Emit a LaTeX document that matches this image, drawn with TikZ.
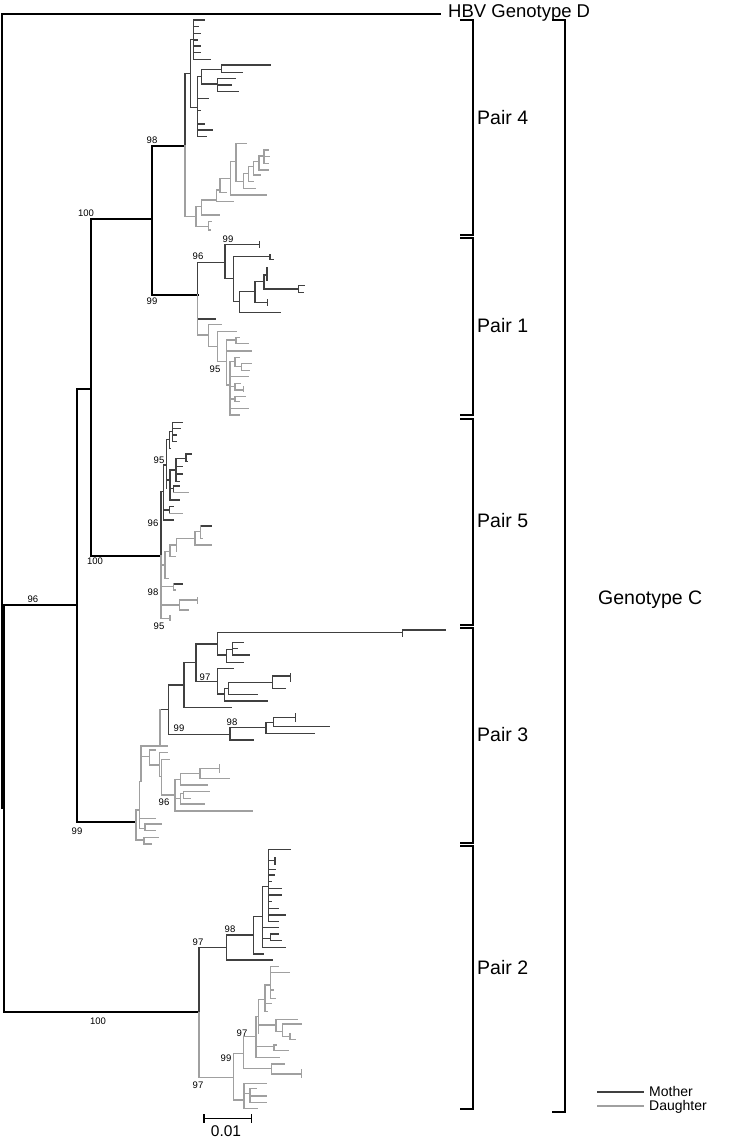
\documentclass[tikz,border=0pt]{standalone}
\usepackage{fontspec}
\setmainfont{Liberation Sans}
\definecolor{mcol}{HTML}{404040}
\definecolor{dcol}{HTML}{A0A0A0}
\begin{document}
\begin{tikzpicture}[x=1pt,y=-1pt,line cap=rect,
  mo/.style={draw=mcol,line width=1.55pt},
  da/.style={draw=dcol,line width=1.55pt},
  bk/.style={draw=black,line width=1.8pt},
  br/.style={draw=black,line width=1.5pt},
  bs/.style={font=\fontsize{9.5}{10}\selectfont,inner sep=0pt},
  lab/.style={font=\fontsize{19.5}{22}\selectfont,inner sep=0pt,anchor=west},
  leg/.style={font=\fontsize{14}{16}\selectfont,inner sep=0pt,anchor=west},
  zs/.style={x=0.333333pt,y=-0.333333pt}]
\useasboundingbox (0,0) rectangle (734,1139);

% ---------- backbone ----------
\draw[bk] (2,14) -- (440,14) (2,14) -- (2,808) (2,808) -- (4,808)
  (4,605) -- (4,1012) (4,605) -- (77,605) (77,389) -- (77,822)
  (77,389) -- (91,389) (91,219) -- (91,556) (91,219) -- (152,219)
  (152,146) -- (152,295) (152,146) -- (185,146) (152,295) -- (197.7,295)
  (91,556) -- (161,556) (77,822) -- (136,822) (4,1012) -- (199,1012);

% ---------- Pair 4 ----------
\begin{scope}[xshift=140pt,yshift=-10pt,zs]
\draw[mo] (135,190) -- (135,408) (135,190) -- (152,190) (152,88) -- (152,292)
 (152,88) -- (160,88) (160,30) -- (160,148)
 (160,30) -- (192,30) (160,50) -- (175,50) (160,70) -- (182,70) (160,90) -- (172,90)
 (160,108) -- (180,108) (160,128) -- (182,128) (160,148) -- (210,148)
 (152,292) -- (172,292) (172,200) -- (172,380) (172,200) -- (185,200)
 (185,178) -- (185,222) (185,178) -- (245,178) (245,165) -- (245,188)
 (245,165) -- (390,165) (245,188) -- (307,188)
 (185,222) -- (232,222) (232,205) -- (232,245) (232,205) -- (287,205)
 (232,225) -- (275,225) (232,245) -- (296,245)
 (172,265) -- (205,265) (172,302) -- (182,302) (172,342) -- (192,342)
 (172,360) -- (218,360) (172,380) -- (200,380);
\draw[da] (135,408) -- (135,620) (135,620) -- (168,620) (168,590) -- (168,650)
 (168,650) -- (205,650) (205,635) -- (205,660) (205,635) -- (215,635) (205,660) -- (210,660)
 (168,590) -- (185,590) (185,570) -- (185,615) (185,615) -- (237,615)
 (185,570) -- (230,570) (230,540) -- (230,575) (230,575) -- (280,575)
 (230,540) -- (240,540) (240,505) -- (240,548) (240,548) -- (258,548)
 (240,505) -- (272,505) (272,455) -- (272,555) (272,555) -- (380,555)
 (272,455) -- (288,455) (288,400) -- (288,515) (288,400) -- (320,400)
 (288,515) -- (310,515) (310,490) -- (310,535) (310,535) -- (345,535)
 (310,490) -- (325,490) (325,470) -- (325,515) (325,515) -- (340,515)
 (325,470) -- (340,470) (340,455) -- (340,495) (340,495) -- (360,495)
 (340,455) -- (357,455) (357,438) -- (357,480) (357,480) -- (385,480)
 (357,438) -- (372,438) (372,420) -- (372,460) (372,420) -- (385,420)
 (372,440) -- (388,440) (372,460) -- (385,460);
\end{scope}

% ---------- Pair 1 ----------
\begin{scope}[xshift=140pt,yshift=-225pt,zs]
\draw[mo] (173,210) -- (173,112) (173,112) -- (255,112) (255,58) -- (255,160)
 (255,58) -- (358,58) (358,50) -- (358,66)
 (255,160) -- (280,160) (280,95) -- (280,230)
 (280,95) -- (390,95) (390,88) -- (390,103) (390,103) -- (400,103)
 (280,230) -- (298,230) (298,200) -- (298,262) (298,262) -- (420,262)
 (298,200) -- (345,200) (345,170) -- (345,232)
 (345,232) -- (383,232) (383,224) -- (383,240)
 (345,170) -- (372,170) (372,150) -- (372,192)
 (372,192) -- (475,192) (475,182) -- (475,202) (475,182) -- (492,182) (475,202) -- (490,202)
 (372,150) -- (381,150) (381,128) -- (381,165)
 (175,282) -- (225,282);
\draw[da] (173,210) -- (173,330) (173,330) -- (205,330) (205,298) -- (205,365)
 (205,298) -- (243,298) (205,365) -- (232,365) (232,320) -- (232,410)
 (232,320) -- (290,320) (232,410) -- (260,410) (260,345) -- (260,480)
 (260,345) -- (288,345) (288,338) -- (288,355) (288,338) -- (298,338) (288,355) -- (325,355)
 (260,378) -- (335,378) (260,480) -- (270,480) (270,410) -- (270,570)
 (270,410) -- (285,410) (285,398) -- (285,425) (285,398) -- (298,398)
 (285,425) -- (305,425) (305,415) -- (305,437) (305,415) -- (335,415) (305,437) -- (328,437)
 (270,455) -- (325,455)
 (270,485) -- (285,485) (285,475) -- (285,495) (285,475) -- (300,475)
 (285,495) -- (310,495) (310,485) -- (310,498)
 (270,522) -- (285,522) (285,515) -- (285,530) (285,515) -- (315,515) (285,530) -- (298,530)
 (270,550) -- (325,550) (270,570) -- (298,570);
\end{scope}

% ---------- Pair 5 ----------
\begin{scope}[xshift=80pt,yshift=-410pt,zs]
\draw[mo] (243,437) -- (243,245) (243,245) -- (250,245) (250,165) -- (250,330)
 (250,330) -- (280,330) (250,300) -- (268,300) (268,290) -- (268,310) (268,290) -- (280,290)
 (250,165) -- (260,165) (260,88) -- (260,235) (260,88) -- (268,88)
 (268,65) -- (268,115) (268,65) -- (278,65) (278,38) -- (278,95)
 (278,38) -- (308,38) (278,55) -- (300,55) (278,75) -- (288,75) (278,95) -- (290,95)
 (268,115) -- (272,115) (260,210) -- (270,210) (270,180) -- (270,270)
 (270,270) -- (298,270) (270,180) -- (288,180) (288,145) -- (288,215)
 (288,145) -- (318,145) (318,132) -- (318,155) (318,132) -- (335,132) (318,155) -- (322,155)
 (288,170) -- (308,170) (288,192) -- (308,192) (288,215) -- (298,215)
 (270,235) -- (280,235) (280,228) -- (280,248) (280,228) -- (298,228)
 (362,348) -- (393,348) (280,522) -- (308,522);
\draw[da] (268,310) -- (308,310) (280,248) -- (325,248)
 (243,437) -- (243,625) (243,625) -- (270,625) (270,618) -- (270,632)
 (243,465) -- (255,465) (255,425) -- (255,505) (255,505) -- (265,505)
 (255,425) -- (270,425) (270,405) -- (270,440) (270,440) -- (285,440)
 (270,405) -- (290,405) (290,385) -- (290,425) (290,385) -- (345,385)
 (345,365) -- (345,405) (345,405) -- (393,405) (345,365) -- (362,365)
 (362,348) -- (362,385) (362,385) -- (366,385)
 (243,530) -- (280,530) (280,522) -- (280,540) (280,540) -- (285,540)
 (243,585) -- (298,585) (298,570) -- (298,600) (298,570) -- (352,570)
 (352,562) -- (352,580) (298,600) -- (325,600);
\end{scope}

% ---------- Pair 3 ----------
\begin{scope}[xshift=100pt,yshift=-620pt,zs]
\draw[mo] (180,268) -- (205,268) (205,195) -- (205,343)
 (205,343) -- (390,343) (390,323) -- (390,360) (390,360) -- (460,360)
 (390,323) -- (498,323) (498,308) -- (498,340) (498,340) -- (643,340)
 (498,308) -- (520,308) (520,293) -- (520,320)
 (520,293) -- (587,293) (587,280) -- (587,305) (520,320) -- (688,320)
 (205,195) -- (252,195) (252,128) -- (252,263) (252,263) -- (395,263)
 (252,128) -- (288,128) (288,72) -- (288,185) (288,72) -- (352,72)
 (352,38) -- (352,105) (352,38) -- (908,38) (908,30) -- (908,48) (908,30) -- (1035,30)
 (352,105) -- (380,105) (380,88) -- (380,127) (380,127) -- (430,127)
 (380,88) -- (398,88) (398,68) -- (398,105)
 (398,68) -- (430,68) (398,105) -- (448,105) (398,85) -- (412,85)
 (288,185) -- (352,185) (352,145) -- (352,222) (352,145) -- (400,145)
 (352,222) -- (373,222) (373,205) -- (373,243) (373,243) -- (503,243)
 (373,205) -- (385,205) (385,188) -- (385,223) (385,223) -- (473,223)
 (385,188) -- (518,188) (518,168) -- (518,205)
 (518,168) -- (572,168) (572,160) -- (572,185) (518,205) -- (555,205);
\draw[da] (180,268) -- (180,378) (122,378) -- (203,378) (122,378) -- (122,420);
\end{scope}
\begin{scope}[xshift=100pt,yshift=-750pt,zs]
\draw[da] (123,-12) -- (123,95) (123,20) -- (148,20) (148,0) -- (148,45)
 (148,0) -- (165,0) (148,45) -- (178,45) (178,8) -- (178,80) (178,8) -- (203,8)
 (178,80) -- (185,80) (185,28) -- (185,135) (185,28) -- (208,28)
 (185,135) -- (225,135) (225,88) -- (225,183) (225,183) -- (458,183)
 (225,88) -- (242,88) (242,70) -- (242,105) (242,70) -- (300,70)
 (300,55) -- (300,85) (300,55) -- (358,55) (358,45) -- (358,68) (300,85) -- (388,85)
 (242,105) -- (322,105) (225,145) -- (242,145) (242,130) -- (242,162)
 (242,162) -- (312,162) (242,130) -- (250,130) (250,125) -- (250,145)
 (250,125) -- (328,125) (250,145) -- (272,145)
 (118,95) -- (123,95) (118,95) -- (118,235) (118,205) -- (165,205)
 (118,235) -- (135,235) (135,222) -- (135,242) (135,222) -- (185,222) (135,242) -- (165,242)
 (108,180) -- (118,180) (108,180) -- (108,270) (108,270) -- (132,270)
 (132,262) -- (132,282) (132,262) -- (175,262) (132,282) -- (155,282);
\end{scope}

% ---------- Pair 2 ----------
\begin{scope}[xshift=150pt,yshift=-840pt,zs]
\draw[mo] (147,322) -- (147,516) (147,322) -- (230,322) (230,285) -- (230,360)
 (230,360) -- (367,360) (230,285) -- (310,285) (310,230) -- (310,342)
 (310,342) -- (340,342) (310,230) -- (338,230) (338,140) -- (338,322)
 (338,262) -- (385,262) (338,322) -- (405,322)
 (338,295) -- (362,295) (362,282) -- (362,302) (362,282) -- (385,282) (362,302) -- (395,302)
 (338,140) -- (355,140) (355,28) -- (355,245)
 (355,28) -- (422,28) (355,62) -- (375,62) (375,52) -- (375,72) (355,88) -- (375,88)
 (355,105) -- (372,105) (355,125) -- (365,125) (355,145) -- (395,145) (355,165) -- (395,165)
 (355,185) -- (365,185) (355,205) -- (385,205) (355,225) -- (405,225) (355,245) -- (385,245);
\end{scope}
\begin{scope}[xshift=150pt,yshift=-970pt,zs]
\draw[da] (147,127) -- (147,322) (147,322) -- (250,322) (250,250) -- (250,390)
 (250,390) -- (282,390) (282,340) -- (282,415) (282,340) -- (348,340) (282,415) -- (322,415)
 (282,370) -- (300,370) (300,355) -- (300,398) (300,398) -- (348,398)
 (300,378) -- (348,378) (300,355) -- (320,355)
 (250,250) -- (280,250) (280,200) -- (280,295) (280,295) -- (365,295)
 (365,282) -- (365,312) (365,282) -- (403,282) (365,312) -- (455,312) (455,300) -- (455,322)
 (280,200) -- (318,200) (318,140) -- (318,262) (318,262) -- (388,262)
 (318,230) -- (372,230) (372,225) -- (372,242) (372,242) -- (415,242) (372,225) -- (380,225)
 (318,140) -- (325,140) (325,88) -- (325,190)
 (325,88) -- (345,88) (345,45) -- (345,125) (345,125) -- (352,125) (345,100) -- (365,100)
 (345,45) -- (362,45) (362,-10) -- (362,85) (362,-10) -- (385,-10) (362,8) -- (418,8)
 (362,60) -- (370,60) (362,85) -- (375,85)
 (325,165) -- (378,165) (378,148) -- (378,185) (378,148) -- (442,148)
 (378,185) -- (398,185) (398,162) -- (398,200) (398,162) -- (455,162)
 (398,200) -- (420,200) (420,190) -- (420,208) (420,208) -- (437,208);
\draw[black,line width=1.3pt] (162,445) -- (305,445) (162,433) -- (162,457) (305,433) -- (305,457);
\end{scope}
\node[font=\fontsize{15.5}{18}\selectfont,inner sep=0pt] (scale) at (226,1131) {0.01};

% ---------- bootstrap values ----------
\node[bs] (b1) at (33,599) {96};
\node[bs] (b2) at (86,213) {100};
\node[bs] (b3) at (152,140) {98};
\node[bs] (b4) at (152,301) {99};
\node[bs] (b5) at (95,561) {100};
\node[bs] (b6) at (77,831) {99};
\node[bs] (b7) at (98,1021) {100};
\node[bs] (b8) at (198,256) {96};
\node[bs] (b9) at (228,239) {99};
\node[bs] (b10) at (215,369) {95};
\node[bs] (b11) at (159,460) {95};
\node[bs] (b12) at (153,523) {96};
\node[bs] (b13) at (153,592) {98};
\node[bs] (b14) at (159,626) {95};
\node[bs] (b15) at (205,677) {97};
\node[bs] (b16) at (179,728) {99};
\node[bs] (b17) at (232,722) {98};
\node[bs] (b18) at (164,802) {96};
\node[bs] (b19) at (198,942) {97};
\node[bs] (b20) at (230,929) {98};
\node[bs] (b21) at (198,1085) {97};
\node[bs] (b22) at (226,1058) {99};
\node[bs] (b23) at (242,1033) {97};

% ---------- brackets ----------
\draw[br] (461,20) -- (473,20) -- (473,235) -- (461,235);
\draw[br] (461,238) -- (473,238) -- (473,415) -- (461,415);
\draw[br] (461,419) -- (473,419) -- (473,625) -- (461,625);
\draw[br] (461,628) -- (473,628) -- (473,843) -- (461,843);
\draw[br] (461,846) -- (473,846) -- (473,1109) -- (461,1109);
\draw[br] (553,20) -- (565,20) -- (565,1112) -- (553,1112);

\node[lab] (p4) at (477,118) {Pair 4};
\node[lab] (p1) at (477,326) {Pair 1};
\node[lab] (p5) at (477,521) {Pair 5};
\node[lab] (p3) at (477,735) {Pair 3};
\node[lab] (p2) at (477,968) {Pair 2};
\node[lab] (gc) at (598,600) {Genotype C};
\node[lab,font=\fontsize{18.5}{21}\selectfont] (gd) at (448,13) {HBV Genotype D};

% ---------- legend ----------
\coordinate (lm1) at (598,1092); \coordinate (lm2) at (643,1092);
\coordinate (ld1) at (598,1106); \coordinate (ld2) at (643,1106);
\draw[mo,line width=1.2pt] (lm1) -- (lm2);
\draw[da,line width=1.2pt] (ld1) -- (ld2);
\node[leg] (mt) at (649,1091) {Mother};
\node[leg] (dt) at (649,1107) {Daughter};
\end{tikzpicture}
\end{document}
